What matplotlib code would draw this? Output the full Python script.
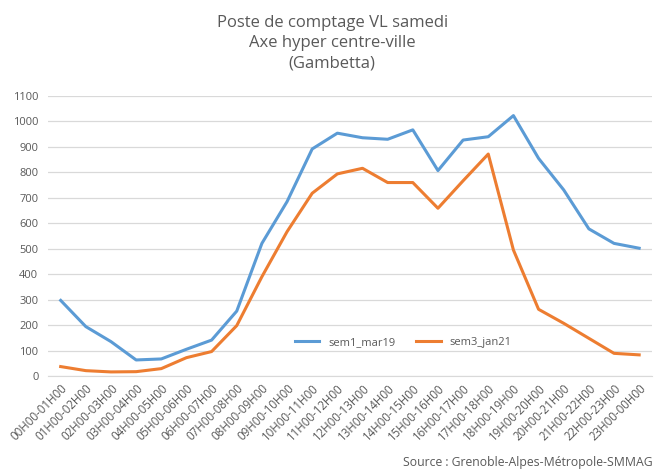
import numpy as np
import matplotlib.pyplot as plt

plt.rcParams['font.family'] = ['Open Sans', 'DejaVu Sans']

heures = ['00H00-01H00', '01H00-02H00', '02H00-03H00', '03H00-04H00', '04H00-05H00',
          '05H00-06H00', '06H00-07H00', '07H00-08H00', '08H00-09H00', '09H00-10H00',
          '10H00-11H00', '11H00-12H00', '12H00-13H00', '13H00-14H00', '14H00-15H00',
          '15H00-16H00', '16H00-17H00', '17H00-18H00', '18H00-19H00', '19H00-20H00',
          '20H00-21H00', '21H00-22H00', '22H00-23H00', '23H00-00H00']

sem1_mar19 = [297, 194, 135, 63, 67, 105, 141, 255, 521, 685, 892, 954,
              936, 930, 967, 807, 927, 940, 1023, 855, 731, 578, 521, 502]
sem3_jan21 = [37, 21, 16, 17, 29, 72, 96, 198, 390, 567, 718, 794,
              816, 760, 760, 659, 767, 872, 495, 262, 207, 148, 89, 83]

GRIS = '#595959'

fig = plt.figure(figsize=(6.59, 4.72), dpi=100)
ax = fig.add_axes([0.073, 0.2034, 0.916, 0.5932])

x = np.arange(len(heures))
ax.plot(x, sem1_mar19, color='#5B9BD5', linewidth=2.2, label='sem1_mar19')
ax.plot(x, sem3_jan21, color='#ED7D31', linewidth=2.2, label='sem3_jan21')

ax.set_xlim(-0.5, len(heures) - 0.5)
ax.set_ylim(0, 1100)
ax.set_yticks(range(0, 1101, 100))
ax.set_xticks(x)
ax.set_xticklabels(heures, rotation=45, ha='right', rotation_mode='anchor',
                   fontsize=8.3, color=GRIS)
ax.tick_params(axis='y', length=0, labelsize=8, labelcolor=GRIS, pad=7)
ax.tick_params(axis='x', length=0, pad=4)

ax.grid(axis='y', color='#d9d9d9', linewidth=0.9)
ax.set_axisbelow(True)
for s in ['top', 'right', 'left']:
    ax.spines[s].set_visible(False)
ax.spines['bottom'].set_color('#d9d9d9')

ax.legend(loc='center', bbox_to_anchor=(0.588, 0.12), ncol=2, frameon=False,
          fontsize=8, labelcolor=GRIS, handlelength=2.2, columnspacing=1.9)

fig.text(0.504, 0.968, 'Poste de comptage VL samedi\nAxe hyper centre-ville\n(Gambetta)',
         ha='center', va='top', fontsize=12, color=GRIS, linespacing=1.35)
fig.text(0.99, 0.006, 'Source : Grenoble-Alpes-Métropole-SMMAG',
         ha='right', va='bottom', fontsize=8.8, color=GRIS)

fig.savefig('out.png', dpi=100)
